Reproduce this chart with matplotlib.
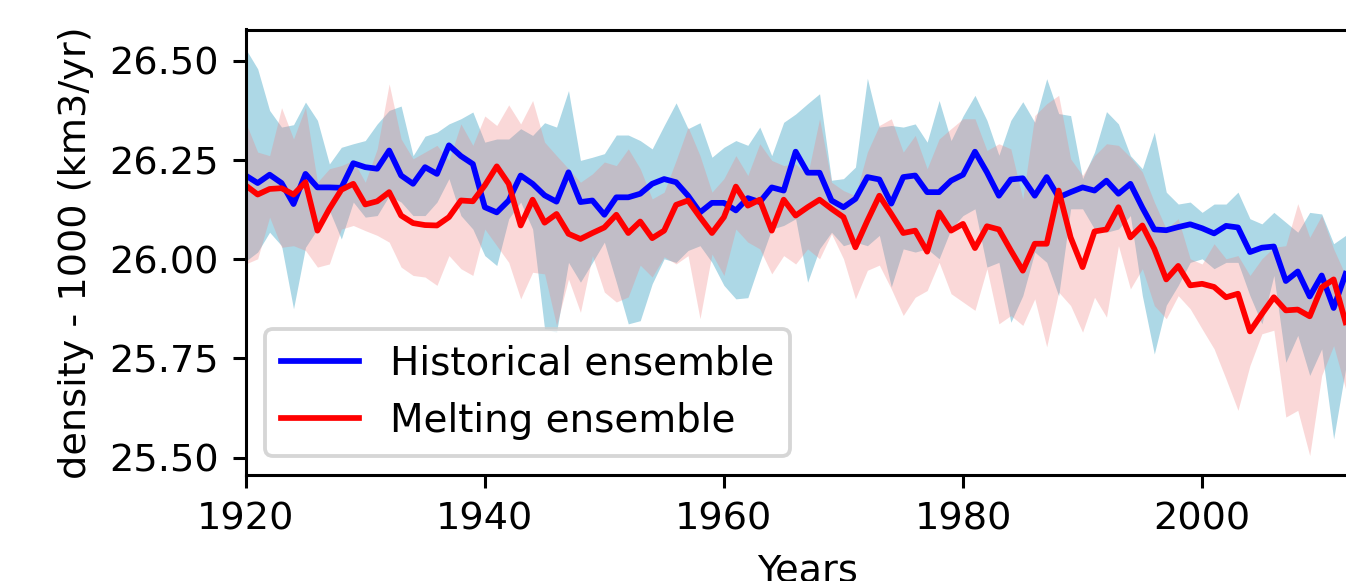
import matplotlib
matplotlib.use("Agg")
import matplotlib.pyplot as plt

# annees 1920 -> 2012
years = list(range(1920, 2013))

# moyenne ensemble historique
hist_mean = [26.211, 26.192, 26.213, 26.192, 26.139, 26.215, 26.181, 26.181, 26.180, 26.242,
             26.232, 26.228, 26.274, 26.211, 26.190, 26.232, 26.215, 26.287, 26.260, 26.240,
             26.131, 26.118, 26.148, 26.211, 26.190, 26.161, 26.145, 26.219, 26.144, 26.148,
             26.112, 26.156, 26.156, 26.165, 26.190, 26.202, 26.194, 26.160, 26.118, 26.142,
             26.142, 26.123, 26.154, 26.144, 26.181, 26.173, 26.271, 26.218, 26.218, 26.148,
             26.131, 26.152, 26.207, 26.201, 26.140, 26.207, 26.211, 26.169, 26.169, 26.198,
             26.213, 26.271, 26.219, 26.160, 26.201, 26.204, 26.160, 26.207, 26.156, 26.169,
             26.181, 26.173, 26.198, 26.165, 26.190, 26.130, 26.075, 26.073, 26.081, 26.088,
             26.078, 26.065, 26.084, 26.080, 26.018, 26.029, 26.032, 25.945, 25.969, 25.906,
             25.959, 25.877, 25.963]
hist_max = [26.530, 26.480, 26.375, 26.333, 26.339, 26.396, 26.350, 26.240, 26.282, 26.291,
            26.299, 26.341, 26.375, 26.386, 26.261, 26.310, 26.320, 26.341, 26.354, 26.371,
            26.295, 26.303, 26.303, 26.329, 26.312, 26.344, 26.333, 26.425, 26.249, 26.257,
            26.266, 26.313, 26.313, 26.299, 26.278, 26.337, 26.394, 26.329, 26.344, 26.257,
            26.282, 26.299, 26.287, 26.333, 26.261, 26.345, 26.366, 26.392, 26.417, 26.199,
            26.203, 26.232, 26.456, 26.333, 26.337, 26.333, 26.341, 26.295, 26.400, 26.299,
            26.361, 26.413, 26.350, 26.262, 26.350, 26.397, 26.345, 26.455, 26.367, 26.362,
            26.203, 26.270, 26.372, 26.341, 26.261, 26.228, 26.320, 26.169, 26.139, 26.144,
            26.118, 26.139, 26.139, 26.169, 26.102, 26.089, 26.118, 26.093, 26.068, 26.118,
            26.114, 26.039, 26.060]
hist_min = [25.995, 26.018, 26.068, 26.034, 25.875, 26.030, 26.076, 26.123, 26.051, 26.144,
            26.106, 26.110, 26.160, 26.144, 26.110, 26.110, 26.144, 26.203, 26.110, 26.076,
            26.009, 25.984, 26.102, 26.144, 26.076, 25.824, 25.816, 25.992, 25.942, 25.992,
            26.043, 25.942, 25.837, 25.845, 25.938, 26.001, 25.992, 26.022, 26.034, 25.992,
            25.934, 25.900, 25.903, 25.992, 26.076, 26.085, 26.102, 25.942, 26.026, 26.068,
            26.034, 26.043, 26.034, 26.060, 25.930, 26.026, 26.018, 26.026, 26.001, 26.076,
            26.110, 26.127, 25.980, 25.992, 25.841, 25.908, 26.018, 25.992, 25.908, 26.127,
            26.127, 26.076, 26.068, 26.076, 26.110, 25.908, 25.761, 25.884, 25.934, 25.992,
            26.001, 25.976, 25.992, 25.992, 25.908, 25.837, 25.959, 25.740, 25.808, 25.707,
            25.774, 25.547, 25.724]

# moyenne ensemble avec fonte
melt_mean = [26.186, 26.163, 26.177, 26.179, 26.163, 26.194, 26.072, 26.127, 26.175, 26.190,
             26.138, 26.146, 26.169, 26.110, 26.091, 26.086, 26.085, 26.106, 26.148, 26.146,
             26.186, 26.234, 26.190, 26.085, 26.150, 26.092, 26.114, 26.064, 26.051, 26.066,
             26.080, 26.112, 26.066, 26.095, 26.053, 26.072, 26.137, 26.148, 26.106, 26.066,
             26.106, 26.183, 26.135, 26.150, 26.072, 26.150, 26.110, 26.131, 26.150, 26.127,
             26.106, 26.030, 26.097, 26.160, 26.114, 26.066, 26.072, 26.019, 26.118, 26.072,
             26.089, 26.028, 26.083, 26.075, 26.022, 25.971, 26.039, 26.039, 26.173, 26.055,
             25.980, 26.070, 26.075, 26.131, 26.055, 26.085, 26.026, 25.949, 25.983, 25.934,
             25.938, 25.930, 25.904, 25.913, 25.818, 25.862, 25.904, 25.871, 25.873, 25.856,
             25.929, 25.949, 25.841]
melt_max = [26.345, 26.270, 26.261, 26.382, 26.303, 26.383, 26.194, 26.228, 26.236, 26.249,
            26.194, 26.278, 26.442, 26.303, 26.253, 26.270, 26.287, 26.249, 26.341, 26.287,
            26.361, 26.337, 26.389, 26.341, 26.400, 26.295, 26.261, 26.228, 26.194, 26.215,
            26.245, 26.236, 26.278, 26.228, 26.152, 26.169, 26.249, 26.333, 26.261, 26.169,
            26.203, 26.261, 26.211, 26.291, 26.249, 26.236, 26.240, 26.211, 26.354, 26.194,
            26.173, 26.160, 26.270, 26.337, 26.354, 26.270, 26.312, 26.228, 26.303, 26.329,
            26.354, 26.354, 26.274, 26.291, 26.278, 26.152, 26.362, 26.392, 26.413, 26.253,
            26.211, 26.261, 26.291, 26.287, 26.257, 26.220, 26.144, 26.076, 26.102, 26.001,
            25.988, 26.039, 26.001, 26.009, 25.959, 26.001, 26.030, 26.034, 26.140, 26.055,
            26.110, 26.026, 25.959]
melt_min = [25.988, 26.001, 26.106, 26.030, 26.034, 26.022, 25.980, 25.988, 26.076, 26.085,
            26.072, 26.060, 26.043, 25.980, 25.959, 25.955, 25.934, 26.009, 25.976, 25.959,
            26.076, 26.034, 25.992, 25.900, 25.967, 25.963, 25.833, 25.950, 25.866, 26.009,
            25.917, 25.892, 25.905, 25.985, 25.955, 26.006, 25.988, 26.009, 25.850, 26.013,
            25.959, 26.076, 26.043, 26.026, 25.963, 26.009, 25.988, 26.026, 26.001, 26.064,
            26.001, 25.900, 25.972, 25.985, 25.925, 25.858, 25.904, 25.921, 25.992, 25.913,
            25.892, 25.871, 25.976, 25.837, 25.858, 25.833, 25.900, 25.779, 25.917, 25.883,
            25.816, 25.904, 25.854, 26.034, 25.925, 25.976, 25.883, 25.850, 25.908, 25.875,
            25.824, 25.774, 25.698, 25.619, 25.732, 25.812, 25.821, 25.602, 25.619, 25.505,
            25.707, 25.782, 25.673]

DPI = 275
fig = plt.figure(figsize=(1346 / DPI, 581 / DPI), dpi=DPI)
# les axes depassent a droite de l'image (figure rognee)
ax = fig.add_axes([245.7 / 1346, 1 - 475 / 581, (1369.5 - 245.7) / 1346, (475 - 29.5) / 581])

ax.fill_between(years, hist_min, hist_max, color="lightblue", linewidth=0)
ax.fill_between(years, melt_min, melt_max, color="lightcoral", alpha=0.3, linewidth=0)
ax.plot(years, hist_mean, color="blue", label="Historical ensemble")
ax.plot(years, melt_mean, color="red", label="Melting ensemble")

ax.set_xlim(1920, 2014)
ax.set_ylim(25.456, 26.579)
ax.set_xticks([1920, 1940, 1960, 1980, 2000])
ax.set_yticks([25.50, 25.75, 26.00, 26.25, 26.50])
ax.set_xlabel("Years")
ax.set_ylabel("density - 1000 (km3/yr)")
ax.legend(loc="lower left", fontsize=10.2)

fig.savefig("out.png", dpi=DPI)
